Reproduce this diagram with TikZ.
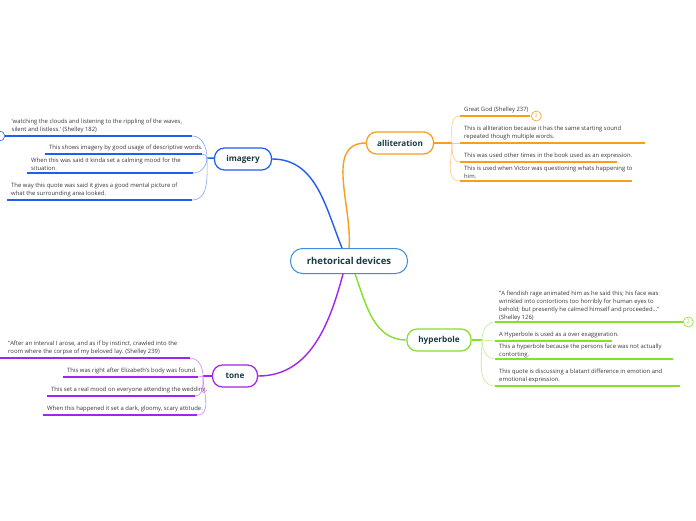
\documentclass[tikz,border=0pt]{standalone}
\usepackage{fontspec}
\setmainfont{Open Sans}
\usetikzlibrary{positioning}
\definecolor{rootC}{HTML}{3E8EDE}
\definecolor{orangeC}{HTML}{F99D1C}
\definecolor{blueC}{HTML}{1F5FEF}
\definecolor{greenC}{HTML}{85E02B}
\definecolor{purpleC}{HTML}{A423EE}
\definecolor{titleC}{HTML}{1B3A44}
\definecolor{noteC}{HTML}{3A3A3A}
\newcommand{\leaffont}{\fontsize{5.9}{8}\selectfont}
\tikzset{
    % Shapes
    root/.style={rectangle, draw=rootC, line width=1pt, rounded corners=12pt, fill=white,
                 minimum width=117pt, minimum height=25pt, text=titleC,
                 font=\bfseries\fontsize{9.5}{11}\selectfont},
    branch/.style={rectangle, draw=#1, line width=1.2pt, rounded corners=10pt, fill=white,
                   minimum height=22pt, text=titleC,
                   font=\bfseries\fontsize{8.2}{10}\selectfont},
    leaf/.style 2 args={anchor=south west, align=left, inner xsep=4pt, inner ysep=2.5pt,
                        text depth=1.5pt, text=noteC, font=\leaffont,
                        append after command={\pgfextra{\xdef\leafnm{\tikzlastnode}}
                          ([xshift=#2pt]\leafnm.south west) coordinate (\leafnm-e)
                          (\leafnm.south west) edge[draw=#1, line width=2pt] (\leafnm-e)}},
    hang/.style={text depth=-6.5pt},
    badge/.style={circle, draw=#1, fill=white, line width=0.6pt, minimum size=10pt,
                  inner sep=0pt, text=#1, font=\fontsize{5}{5}\selectfont},
    % Connectors
    trunk/.style={draw=#1, line width=1.4pt},
    twig/.style={draw=#1!55, line width=0.6pt}
}

\begin{document}
\begin{tikzpicture}[x=1pt, y=1pt]
\useasboundingbox (0,0) rectangle (696,-520);
\fill[white] (0,0) rectangle (696,-520);

\node[root] (root) at (349,-261) {rhetorical devices};
\node[branch=orangeC, minimum width=67pt] (allit) at (400,-143) {alliteration};
\node[branch=blueC, minimum width=57pt] (imag) at (243,-159) {imagery};
\node[branch=greenC, minimum width=64pt] (hyper) at (439,-340) {hyperbole};
\node[branch=purpleC, minimum width=45pt] (tone) at (235,-376) {tone};

\draw[trunk=orangeC] (root.north) to[out=85,in=180] (allit.west);
\draw[trunk=blueC] ([xshift=-7pt]root.north) to[out=112,in=0] (imag.east);
\draw[trunk=greenC] ([xshift=6pt]root.south) to[out=-70,in=180] (hyper.west);
\draw[trunk=purpleC] ([xshift=-6pt]root.south) to[out=-105,in=0] (tone.east);

\coordinate (alj) at (452,-143);
\coordinate (imj) at (207,-158);
\coordinate (hyj) at (482,-340);
\coordinate (toj) at (203,-376);

% alliteration
\node[leaf={orangeC}{70}] (al1) at (460,-116) {Great God (Shelley 237)};
\node[leaf={orangeC}{185}] (al2) at (460,-143) {This is alliteration because it has the same starting sound\\repeated though multiple words.};
\node[leaf={orangeC}{157}] (al3) at (460,-162) {This was used other times in the book used as an expression.};
\node[leaf={orangeC}{172}, hang] (al4) at (460,-181) {This is used when Victor was questioning whats happening to\\him.};
\node[badge=orangeC, right=1pt of al1-e] (al1b) {2};

\draw[trunk=orangeC] (allit) -- (alj);
\draw[twig=orangeC] (alj) to[out=90,in=180] (al1.south west);
\draw[twig=orangeC] (alj) -- (al2.south west);
\draw[twig=orangeC] (alj) to[out=-90,in=180] (al3.south west);
\draw[twig=orangeC] (alj) to[out=-90,in=180] (al4.south west);

% imagery
\node[leaf={blueC}{187}, inner xsep=6.5pt] (im1) at (5,-136) {`watching the clouds and listening to the rippling of the waves,\\silent and listless.` (Shelley 182)};
\node[leaf={blueC}{157}] (im2) at (45,-154) {This shows imagery by good usage of descriptive words.};
\node[leaf={blueC}{166}, hang] (im3) at (27,-173) {When this was said it kinda set a calming mood for the\\situation.};
\node[leaf={blueC}{185}] (im4) at (7,-200) {The way this quote was said it gives a good mental picture of\\what the surrounding area looked.};
\node[badge=blueC, left=0pt of im1.south west] (im1b) {};

\draw[trunk=blueC] (imag) -- (imj);
\draw[twig=blueC] (imj) to[out=90,in=0] (im1-e);
\draw[twig=blueC] (imj) to[out=90,in=0] (im2-e);
\draw[twig=blueC] (imj) to[out=-90,in=0] (im3-e);
\draw[twig=blueC] (imj) to[out=-90,in=0] (im4-e);

% hyperbole
\node[leaf={greenC}{188}, hang] (hy1) at (495,-322) {"A fiendish rage animated him as he said this; his face was\\wrinkled into contortions too horribly for human eyes to\\behold; but presently he calmed himself and proceeded..."\\(Shelley 126)};
\node[leaf={greenC}{117}] (hy2) at (495,-341) {A Hyperbole is used as a over exaggeration.};
\node[leaf={greenC}{178}, hang] (hy3) at (495,-359) {This a hyperbole because the persons face was not actually\\contorting.};
\node[leaf={greenC}{185}] (hy4) at (495,-386) {This quote is discussing a blatant difference in emotion and\\emotional expression.};
\node[badge=greenC, right=0pt of hy1-e] (hy1b) {2};

\draw[trunk=greenC] (hyper) -- (hyj);
\draw[twig=greenC] (hyj) to[out=90,in=180] (hy1.south west);
\draw[twig=greenC] (hyj) -- (hy2.south west);
\draw[twig=greenC] (hyj) to[out=-90,in=180] (hy3.south west);
\draw[twig=greenC] (hyj) to[out=-90,in=180] (hy4.south west);

% tone
\node[leaf={purpleC}{190}, inner xsep=8pt] (to1) at (0,-358) {"After an interval I arose, and as if by instinct, crawled into the\\room where the corpse of my beloved lay. (Shelley 239)};
\node[leaf={purpleC}{135}] (to2) at (63,-377) {This was right after Elizabeth's body was found.};
\node[leaf={purpleC}{148}] (to3) at (47,-396) {This set a real mood on everyone attending the wedding.};
\node[leaf={purpleC}{154}] (to4) at (43,-415) {When this happened it set a dark, gloomy, scary attitude.};

\draw[trunk=purpleC] (tone) -- (toj);
\draw[twig=purpleC] (toj) to[out=90,in=0] (to1-e);
\draw[twig=purpleC] (toj) -- (to2-e);
\draw[twig=purpleC] (toj) to[out=-90,in=0] (to3-e);
\draw[twig=purpleC] (toj) to[out=-90,in=0] (to4-e);

\end{tikzpicture}
\end{document}
